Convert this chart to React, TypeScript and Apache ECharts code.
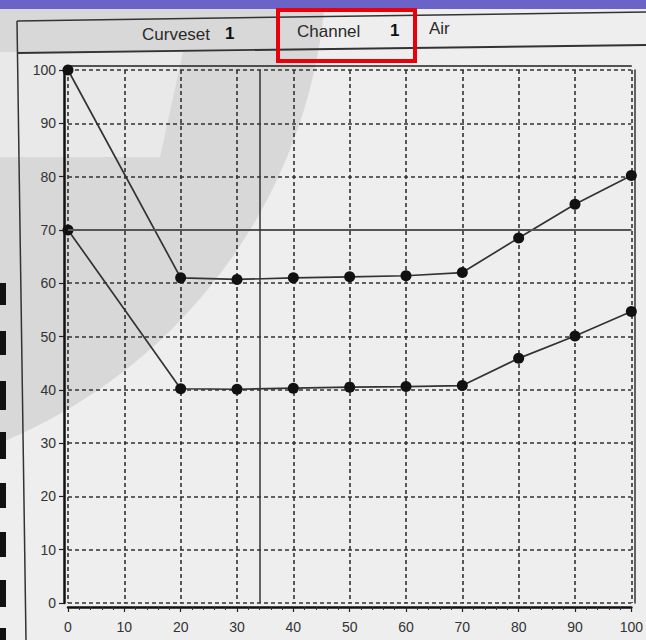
import React, { useEffect, useRef } from "react";
import * as echarts from "echarts";

// ---- data ----
const xValues = [0, 20, 30, 40, 50, 60, 70, 80, 90, 100];
const upperCurve = [100, 61, 60.7, 61, 61.2, 61.4, 62, 68.5, 74.8, 80.2];
const lowerCurve = [70, 40.2, 40.1, 40.3, 40.5, 40.6, 40.8, 45.9, 50.1, 54.7];
const referenceLevel = 70;
const cursorX = 34;
const axisMin = 0;
const axisMax = 100;
const axisStep = 10;
const headerTitle = "Curveset";
const headerSet = "1";
const headerChannel = "Channel";
const headerChannelNo = "1";
const headerMedium = "Air";

const FONT = "'Liberation Sans', Arial, sans-serif";
const INK = "#2a2a2a";

function buildOption() {
  const upper = xValues.map((x, i) => [x, upperCurve[i]]);
  const lower = xValues.map((x, i) => [x, lowerCurve[i]]);
  const leftBars = [
    [283, 22],
    [331, 24],
    [381, 29],
    [432, 27],
    [483, 25],
    [532, 25],
    [580, 27],
    [628, 12],
  ];
  const gridLine = {
    show: true,
    lineStyle: { color: "#333", width: 1.6, type: [4, 3] as any },
  };
  return {
    animation: false,
    backgroundColor: "#eeeeee",
    grid: { left: 68, right: 6, top: 70, bottom: 37, containLabel: false },
    xAxis: [
      {
        type: "value",
        min: axisMin,
        max: axisMax,
        interval: axisStep,
        position: "bottom",
        offset: 4,
        axisLine: { show: true, onZero: false, lineStyle: { color: "#111", width: 2.5 } },
        axisTick: { show: true, length: 5, lineStyle: { color: "#222", width: 1.2 } },
        minorTick: { show: true, splitNumber: 5, length: 3, lineStyle: { color: "#333", width: 1 } },
        axisLabel: { color: "#333", fontSize: 14, fontFamily: FONT, margin: 13 },
        splitLine: gridLine,
      },
      {
        type: "value",
        min: axisMin,
        max: axisMax,
        interval: axisStep,
        position: "top",
        offset: 4,
        axisLine: { show: true, onZero: false, lineStyle: { color: "#222", width: 1.5 } },
        axisTick: { show: false },
        axisLabel: { show: false },
        splitLine: { show: false },
      },
    ],
    yAxis: [
      {
        type: "value",
        min: axisMin,
        max: axisMax,
        interval: axisStep,
        position: "left",
        offset: 4,
        axisLine: { show: true, onZero: false, lineStyle: { color: "#111", width: 2.5 } },
        axisTick: { show: true, length: 5, lineStyle: { color: "#222", width: 1.2 } },
        axisLabel: { color: "#333", fontSize: 14, fontFamily: FONT, margin: 8 },
        splitLine: gridLine,
      },
      {
        type: "value",
        min: axisMin,
        max: axisMax,
        interval: axisStep,
        position: "right",
        offset: 3,
        axisLine: { show: true, onZero: false, lineStyle: { color: "#333", width: 1.5 } },
        axisTick: { show: false },
        axisLabel: { show: false },
        splitLine: { show: false },
      },
    ],
    series: [
      {
        type: "line",
        data: upper,
        xAxisIndex: 0,
        yAxisIndex: 0,
        symbol: "circle",
        symbolSize: 11,
        itemStyle: { color: "#111" },
        lineStyle: { color: "#333", width: 1.7 },
        markLine: {
          silent: true,
          symbol: ["none", "none"],
          label: { show: false },
          data: [
            { yAxis: referenceLevel, lineStyle: { color: "#555", width: 2.2, type: "solid" } },
            { xAxis: cursorX, lineStyle: { color: "#333", width: 1.5, type: "solid" } },
          ],
        },
      },
      {
        type: "line",
        data: lower,
        xAxisIndex: 0,
        yAxisIndex: 0,
        symbol: "circle",
        symbolSize: 11,
        itemStyle: { color: "#111" },
        lineStyle: { color: "#333", width: 1.7 },
      },
    ],
    graphic: [
      // slide decoration: grey disc and light band (behind the chart)
      {
        type: "circle", z: -10, silent: true,
        shape: { cx: -199, cy: -44, r: 526 },
        style: { fill: "rgba(0,0,0,0.09)" },
      },
      {
        type: "polygon", z: -9, silent: true,
        shape: { points: [[0, 52], [183, 52], [160, 157], [0, 157]] },
        style: { fill: "rgba(255,255,255,0.45)" },
      },
      // purple slide band
      { type: "rect", z: 50, shape: { x: 0, y: 0, width: 646, height: 9 }, style: { fill: "#6a63c8" }, silent: true },
      // panel frame
      { type: "line", z: 40, shape: { x1: 17, y1: 21, x2: 646, y2: 12 }, style: { stroke: "#333", lineWidth: 1.5 }, silent: true },
      { type: "line", z: 40, shape: { x1: 17, y1: 53, x2: 646, y2: 45 }, style: { stroke: "#333", lineWidth: 1.8 }, silent: true },
      { type: "line", z: 40, shape: { x1: 17, y1: 21, x2: 26, y2: 640 }, style: { stroke: "#333", lineWidth: 1.5 }, silent: true },
      // header texts
      {
        type: "text", z: 45, x: 142, y: 34, silent: true,
        style: { text: headerTitle, fill: INK, font: `17px ${FONT}`, verticalAlign: "middle" },
      },
      {
        type: "text", z: 45, x: 225, y: 33, silent: true,
        style: { text: headerSet, fill: "#111", font: `bold 17px ${FONT}`, verticalAlign: "middle" },
      },
      {
        type: "text", z: 45, x: 297, y: 31, silent: true,
        style: { text: headerChannel, fill: INK, font: `17px ${FONT}`, verticalAlign: "middle" },
      },
      {
        type: "text", z: 45, x: 390, y: 30, silent: true,
        style: { text: headerChannelNo, fill: "#111", font: `bold 17px ${FONT}`, verticalAlign: "middle" },
      },
      {
        type: "text", z: 45, x: 429, y: 28, silent: true,
        style: { text: headerMedium, fill: INK, font: `17px ${FONT}`, verticalAlign: "middle" },
      },
      // red highlight box
      {
        type: "rect", z: 60, silent: true,
        shape: { x: 278, y: 10, width: 137, height: 51 },
        style: { fill: "none", stroke: "#e8000b", lineWidth: 4 },
      },
      // black marks on the left edge
      ...leftBars.map(([y, h]) => ({
        type: "rect", z: 55, silent: true,
        shape: { x: 0, y, width: 6, height: h },
        style: { fill: "#111" },
      })),
    ],
  };
}

export default function App() {
  const ref = useRef<HTMLDivElement>(null);
  useEffect(() => {
    if (!ref.current) return;
    const chart = echarts.init(ref.current, null, { renderer: "svg" });
    chart.setOption(buildOption() as any);
    return () => chart.dispose();
  }, []);
  return (
    <div
      ref={ref}
      style={{ position: "absolute", left: 0, top: 0, width: 646, height: 640 }}
    />
  );
}
